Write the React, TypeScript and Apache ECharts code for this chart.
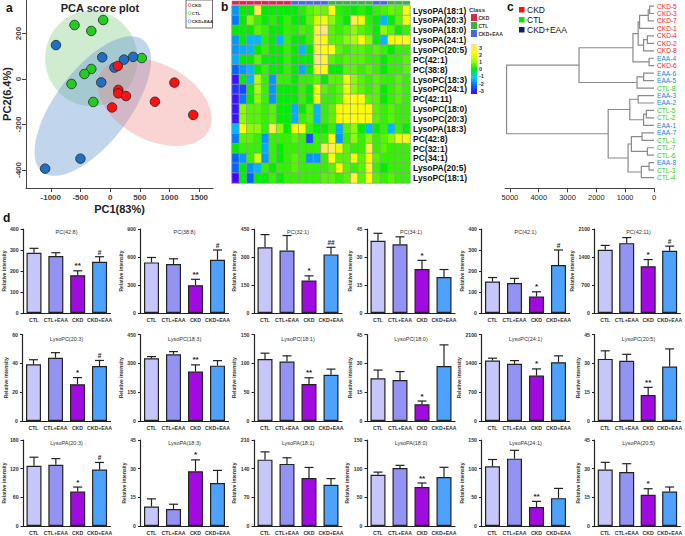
import React, { useEffect, useRef } from 'react';
import * as echarts from 'echarts';

const FONT = '"Liberation Sans", Arial, sans-serif';

// ---------- Panel a: PCA ----------
const pcaCKD = [[128, 57], [138, -48], [138, -63], [267, -75], [33, -125], [755, -100], [1083, -16], [1400, -158]];
const pcaCTL = [[-600, 237], [-117, 259], [-317, 211], [-317, 44], [-433, 22], [-650, -22], [-283, -101], [533, 92]];
const pcaEAA = [[-912, 149], [-133, 95], [-150, -15], [72, 50], [233, 85], [388, 97], [-500, -350], [-1095, -394]];
const pcaXTicks = [-1000, -500, 0, 500, 1000, 1500];
const pcaYTicks = [-400, -200, 0, 200];
const ellipseCenters = [[-317, 90], [-292, -119], [750, -101]];
const ellipseAxisU = [[767, 35], [850, 290], [917, -123]];
const ellipseAxisV = [[133, -207], [490, -100], [-288, -149]];
const ellipseFills = ['rgba(120,200,120,0.35)', 'rgba(100,150,210,0.4)', 'rgba(240,130,130,0.35)'];

// ---------- Panel b: heatmap ----------
const heatRows = ['LysoPA(18:1)', 'LysoPA(20:3)', 'LysoPA(18:0)', 'LysoPA(24:1)', 'LysoPC(20:5)', 'PC(42:1)', 'PC(38:8)', 'LysoPC(18:3)', 'LysoPC(24:1)', 'PC(42:11)', 'LysoPC(18:0)', 'LysoPC(20:3)', 'LysoPA(18:3)', 'PC(42:8)', 'PC(32:1)', 'PC(34:1)', 'LysoPA(20:5)', 'LysoPC(18:1)'];
// 0 = CKD, 1 = CTL, 2 = CKD+EAA
const heatClass = [0, 0, 0, 0, 0, 0, 0, 0, 2, 2, 2, 2, 2, 1, 1, 1, 1, 1, 1, 2, 2, 1, 1, 1];
const heatValues = [
  [-1.5, 0, 0, 2.5, 0, 0, 0, 0, 0, 0.2, 0.5, 0.7, 0.6, 2, 0.2, 0.1, 0, 0.2, 0, 0.3, 0.4, 0.6, 0.5, 1.8],
  [-1.8, 0, 0.8, 0.3, 0, 0.2, 0, 0.3, 0, 0, 0.5, 1.5, 1.8, 0.8, 0.3, 0, 2.5, 1.8, 0.2, 0, -1.2, 0, 0.5, 1.8],
  [0, 0, 0, 0.5, 0.3, 0, 0, 0.3, 0.2, 0.4, 0.3, 2.5, 2.8, 0.5, 0.3, 0.5, 0.8, 0.5, 0.3, 0, 0.8, 0.5, 0, 0.3],
  [-1.5, 0, -1.2, -1.2, 0.2, 0, -1.2, 0.3, 0, 0, 0.3, 2.5, 2, 0.5, 0.5, 0.8, 1, 2, 0.8, 0, -1.2, 2, 2, 2],
  [-1.5, -1.3, -1.2, 0, 0.3, 0, 0, 0.3, 0, -1.2, 0, 2.5, 2, 2, 0.5, 0.3, 0.5, 0.5, 0.3, 0.5, 0.3, 0, 0.3, 0.3],
  [-1.3, 0, 0, 0.5, 0, 0, 0, 0.3, 0, 0, 0, 2.8, 2.3, 0.5, 0.3, 0.5, 0.5, 0.5, 0.3, 0.3, 0, 0.3, 0.3, 0.5],
  [-2, -1.5, -1.2, 0, 0.3, 0, 0, 0.3, 0, -1.3, 0, 2.3, 2, 0, 0, 0.5, 0.5, 0.3, 0.5, 0.3, 0, 0.3, 0.3, 0.5],
  [-2.8, 0, -1.2, 1, 0.3, -1.5, 0.3, 0.3, 0, 0.3, 0.3, 0.5, 0, 0.5, 0.5, 1.8, 0.8, 0.5, 0.3, 0.5, 0.3, 0.3, 0.5, 0.3],
  [-2.5, -2.3, 0, 1, 0.3, -1.5, 0, 0, 0, 0.3, 0, 1.8, 0.5, 0.3, 0.5, 1.8, 0.8, 0.5, 0.3, 0.5, 0, 0.3, 0.5, 0.3],
  [-2.8, -1.8, 0, 0.8, 0.3, -1.5, 0, 0, 0, 0.3, 0, 2, 0.3, 0.3, 0.5, 2, 2, 2, 0.5, 0.5, 0, 0.3, 0.5, 0.3],
  [-2.8, 0.8, 0.5, 0.5, 0.3, 0.5, 0, 0, -1.3, 0, 0.5, -1.2, 0.3, 0.5, 2, 2, 2, 2, 2, 0.5, 0.3, 0.5, 0.3, 0.3],
  [-2.8, 0.8, 0.5, 0.5, 0.3, 0.5, 0, 0, -1.3, 0.3, 0.5, -1.2, 0.3, 0.5, 2, 2, 2, 2, 2, 0.5, 0.3, 0.5, 0.3, 0.3],
  [-1.2, 2, 0.8, 0.8, 0.3, 2.5, 0.8, 0, 2, 2, 0.3, 0, 0, 0.3, -1.3, 0.5, 0.8, 0, -1.2, 0, 0.3, -1.2, 0.3, 0],
  [-1.8, 0.5, 0.5, 0.3, -1.5, 0.3, 0.3, 0.3, 0.5, 0.3, -2.2, 0.3, 0.3, 2, -1.5, 0.3, 0.8, 0.3, 0.8, 0.3, 0.5, 0.8, 1.8, 1.8],
  [0, 0.3, 0.3, 0.3, -1.3, 0.3, 0, 0.3, 0.3, 0.3, 0.3, 0.3, 2.5, 2.5, 1.8, 0.5, 0.3, 0.3, 2.5, 0.3, 0.5, 0.3, 0.3, 0.3],
  [-2, -1.5, 0.3, 1.5, -1.5, 0.3, 0, 0.3, 0.5, 0.3, -1.5, -1.5, 0.3, 2, 0.5, 0.5, 1.8, 0.5, 2, 0.5, 0.3, 0.3, 0.3, 0.3],
  [-2, 0, -1.5, -1.2, 0.3, 0, 0.3, 0.3, 0.5, 0.3, 0.3, 0.3, 0.3, 0.5, 2, 0.5, 0.3, 0.5, 2.3, 0.3, 0, 0.3, 0.3, 0.3],
  [-3, 0, -2, 0, 0, 0.3, 0, 0.3, 0.3, 0.3, 0.3, 0.3, 0.5, 0.5, 0.3, 0.5, 2.3, 0.5, 2, 0.5, 0.3, 0.5, 0.3, 0.3],
];
const heatColors = ['#4a00ff', '#0066ff', '#00ccff', '#00ee00', '#aaff00', '#ffff00', '#ffdf9a'];
const heatClassNames = ['CKD', 'CTL', 'CKD+EAA'];
const heatClassColors = ['#d42a50', '#3cae4a', '#4a68d6'];
const colorbarTicks = [3, 2, 1, 0, -1, -2, -3];

// ---------- Panel c: dendrogram ----------
const dendroLeaves = ['CKD-5', 'CKD-3', 'CKD-7', 'CKD-1', 'CKD-4', 'CKD-2', 'CKD-8', 'EAA-4', 'CKD-6', 'EAA-6', 'EAA-5', 'CTL-8', 'EAA-3', 'EAA-2', 'CTL-5', 'CTL-2', 'EAA-1', 'EAA-7', 'CTL-1', 'CTL-7', 'CTL-6', 'EAA-8', 'CTL-3', 'CTL-4'];
// [left, right, height]; strings are leaves, numbers refer to earlier merges
const dendroMerges: [string | number, string | number, number][] = [
  ['CKD-5', 'CKD-3', 150], [0, 'CKD-7', 200], [1, 'CKD-1', 500], ['CKD-4', 'CKD-2', 230], [3, 'CKD-8', 360],
  [2, 4, 550], ['EAA-4', 'CKD-6', 170], [5, 6, 730], ['EAA-6', 'EAA-5', 360], [8, 'CTL-8', 590], [7, 9, 2600],
  ['EAA-3', 'EAA-2', 550], ['CTL-5', 'CTL-2', 265], [12, 'EAA-1', 360], [11, 13, 840], ['EAA-7', 'CTL-1', 415],
  ['CTL-7', 'CTL-6', 230], [15, 16, 785], ['EAA-8', 'CTL-3', 170], [18, 'CTL-4', 440], [17, 19, 900],
  [14, 20, 1590], [10, 21, 5115],
];
const dendroTicks = [0, 1000, 2000, 3000, 4000, 5000];
const legendCNames = ['CKD', 'CTL', 'CKD+EAA'];
const legendCColors = ['#ff1010', '#10dd10', '#10205a'];

// ---------- Panel d: bar charts ----------
const barCats = ['CTL', 'CTL+EAA', 'CKD', 'CKD+EAA'];
const barColors = ['#c6c6fb', '#9393f3', '#a20ae2', '#4ea2ff'];
const barTitles = [
  'PC(42:8)', 'PC(38:8)', 'PC(32:1)', 'PC(34:1)', 'PC(42:1)', 'PC(42:11)',
  'LysoPC(20:3)', 'LysoPC(18:3)', 'LysoPC(18:1)', 'LysoPC(18:0)', 'LysoPC(24:1)', 'LysoPC(20:5)',
  'LysoPA(20:3)', 'LysoPA(18:3)', 'LysoPA(18:1)', 'LysoPA(18:0)', 'LysoPA(24:1)', 'LysoPA(20:5)',
];
const barMeans = [
  [287, 271, 180, 244], [542, 524, 298, 571], [352, 335, 174, 314], [38.7, 36.8, 23.6, 19.3], [150, 143, 78, 228], [1583, 1746, 1170, 1558],
  [39.3, 43.9, 25.5, 38.1], [326, 347, 257, 288], [107.6, 103, 64, 80], [22.2, 21.3, 8.7, 28.6], [1467, 1387, 1102, 1428], [32.3, 31.3, 13.5, 28.3],
  [126, 128, 72, 118], [10.2, 8.9, 28.6, 22.5], [162, 151.6, 117, 100.7], [89.5, 101, 68, 85.4], [104, 117.5, 33, 48.6], [29.5, 28.2, 16.3, 18],
];
const barErrs = [
  [21, 16, 21, 24], [53, 57, 63, 104], [68, 80, 25, 38], [4, 4, 4.6, 4], [19, 22, 23, 72], [107, 140, 166, 114],
  [3.2, 3.5, 4.6, 3.9], [9, 14, 35, 26], [10, 10, 11, 10], [4.3, 4.4, 1.7, 11], [58, 80, 163, 154], [4.2, 3.4, 4, 9.2],
  [18, 13, 9.5, 15], [4, 2.5, 6, 6.6], [19, 15, 26, 15], [4.5, 4.8, 7, 17], [12, 14.5, 10, 17], [3.8, 4.4, 3.2, 2.4],
];
const barMarks = [
  ['', '', '**', '#'], ['', '', '**', '#'], ['', '', '*', '##'], ['', '', '*', ''], ['', '', '*', '#'], ['', '', '*', '#'],
  ['', '', '*', '#'], ['', '', '**', ''], ['', '', '**', ''], ['', '', '*', ''], ['', '', '*', ''], ['', '', '**', ''],
  ['', '', '*', '#'], ['', '', '*', ''], ['', '', '', ''], ['', '', '**', ''], ['', '', '**', ''], ['', '', '*', ''],
];
const barYMax = [400, 900, 450, 45, 400, 2100, 60, 450, 150, 45, 2100, 45, 180, 45, 210, 150, 150, 45];
const barYStep = [100, 300, 150, 15, 100, 700, 20, 150, 50, 15, 700, 15, 60, 15, 70, 50, 50, 15];

const plain = (v: number) => String(v);

function buildOption() {
  const grid: any[] = [];
  const xAxis: any[] = [];
  const yAxis: any[] = [];
  const series: any[] = [];
  const graphic: any[] = [];
  const txt = (x: number, y: number, text: string, fontSize: number, opts: any = {}) => ({
    type: 'text', x, y, silent: true,
    style: { text, fontSize, fontFamily: FONT, fill: opts.fill || '#111', fontWeight: opts.bold ? 'bold' : 'normal', align: opts.align || 'left', verticalAlign: 'middle' },
  });

  // ----- a -----
  grid.push({ left: 24, top: 0, width: 189, height: 188 });
  xAxis.push({
    type: 'value', gridIndex: 0, min: -1417, max: 1733, splitLine: { show: false },
    axisLine: { show: true, onZero: false, lineStyle: { color: '#444', width: 1 } },
    axisTick: { show: true, customValues: pcaXTicks, length: 4, lineStyle: { color: '#444' } },
    axisLabel: { customValues: pcaXTicks, formatter: plain, fontSize: 8, fontWeight: 'bold', color: '#444', margin: 5 },
    name: 'PC1(83%)', nameLocation: 'middle', nameGap: 15,
    nameTextStyle: { fontSize: 11, fontWeight: 'bold', color: '#222', verticalAlign: 'top' },
  });
  yAxis.push({
    type: 'value', gridIndex: 0, min: -479, max: 347, splitLine: { show: false },
    axisLine: { show: true, onZero: false, lineStyle: { color: '#444', width: 1 } },
    axisTick: { show: true, customValues: pcaYTicks, length: 4, lineStyle: { color: '#444' } },
    axisLabel: { customValues: pcaYTicks, formatter: plain, fontSize: 8, fontWeight: 'bold', color: '#444', margin: 4, rotate: 90 },
    name: 'PC2(6.4%)', nameLocation: 'middle', nameGap: 14,
    nameTextStyle: { fontSize: 11, fontWeight: 'bold', color: '#222' },
  });
  series.push({
    type: 'custom', xAxisIndex: 0, yAxisIndex: 0, silent: true, z: 1,
    data: ellipseCenters.map((c, i) => [c[0], c[1], i]),
    renderItem: (params: any, api: any) => {
      const i = params.dataIndex;
      const c = ellipseCenters[i], u = ellipseAxisU[i], v = ellipseAxisV[i];
      const pts: number[][] = [];
      for (let k = 0; k < 72; k++) {
        const t = (k / 72) * Math.PI * 2;
        pts.push(api.coord([c[0] + u[0] * Math.cos(t) + v[0] * Math.sin(t), c[1] + u[1] * Math.cos(t) + v[1] * Math.sin(t)]));
      }
      return { type: 'polygon', shape: { points: pts }, style: { fill: ellipseFills[i], stroke: 'none' } };
    },
  });
  const pts = [
    [pcaCTL, '#22cc22'], [pcaEAA, '#1f6fc5'], [pcaCKD, '#ff1010'],
  ] as [number[][], string][];
  pts.forEach(([d, col]) => series.push({
    type: 'scatter', xAxisIndex: 0, yAxisIndex: 0, data: d, symbolSize: 9.5, z: 3,
    itemStyle: { color: col, borderColor: '#222', borderWidth: 0.8, opacity: 1 },
  }));
  graphic.push(txt(6, 8, 'a', 12, { bold: true }));
  graphic.push(txt(100, 8, 'PCA score plot', 11, { bold: true, align: 'center', fill: '#222' }));
  graphic.push({ type: 'rect', shape: { x: 186, y: 0, width: 26.5, height: 28 }, style: { fill: '#fff', stroke: '#333', lineWidth: 0.7 }, z: 10 });
  const pcaLegNames = ['CKD', 'CTL', 'CKD+EAA'];
  const pcaLegCols = ['#ff1010', '#22cc22', '#1f6fc5'];
  pcaLegNames.forEach((n, i) => {
    graphic.push({ type: 'circle', shape: { cx: 189.5, cy: 5 + i * 8.2, r: 1.5 }, style: { fill: 'none', stroke: pcaLegCols[i], lineWidth: 0.6 }, z: 11 });
    graphic.push({ ...txt(191.8, 5 + i * 8.2, n, 4.4, { bold: true, fill: '#333' }), z: 11 });
  });

  // ----- b -----
  const sampleIds = heatClass.map((c, i) => 's' + i);
  grid.push({ left: 232, top: 1, width: 178, height: 3.6 });
  grid.push({ left: 232, top: 5.7, width: 178, height: 177.3 });
  xAxis.push({ type: 'category', gridIndex: 1, data: sampleIds, show: false });
  xAxis.push({ type: 'category', gridIndex: 2, data: sampleIds, show: false });
  yAxis.push({ type: 'category', gridIndex: 1, data: ['class'], show: false });
  yAxis.push({
    type: 'category', gridIndex: 2, data: heatRows, inverse: true, position: 'right',
    axisLine: { show: false }, axisTick: { show: false },
    axisLabel: { interval: 0, fontSize: 8.5, fontWeight: 'bold', color: '#111', margin: 3, lineHeight: 9 },
  });
  const classSeriesIndex = series.length;
  series.push({
    type: 'heatmap', xAxisIndex: 1, yAxisIndex: 1,
    data: heatClass.map((c, i) => [i, 0, c]),
    itemStyle: { borderColor: '#fff', borderWidth: 0.3 },
  });
  const heatSeriesIndex = series.length;
  const hdata: number[][] = [];
  heatValues.forEach((row, r) => row.forEach((v, c) => hdata.push([c, r, v])));
  series.push({
    type: 'heatmap', xAxisIndex: 2, yAxisIndex: 2, data: hdata,
    itemStyle: { borderColor: '#9a9a9a', borderWidth: 0.7 },
  });
  graphic.push(txt(221, 7, 'b', 12, { bold: true }));
  graphic.push(txt(469, 10, 'Class', 6, { bold: true, fill: '#333' }));
  heatClassNames.forEach((n, i) => {
    graphic.push({ type: 'rect', shape: { x: 471, y: 14 + i * 8, width: 6, height: 7 }, style: { fill: heatClassColors[i] } });
    graphic.push(txt(478.5, 17.5 + i * 8, n, 5, { bold: true, fill: '#333' }));
  });
  const stops = heatColors.slice().reverse().map((c, i) => ({ offset: i / (heatColors.length - 1), color: c }));
  graphic.push({ type: 'rect', shape: { x: 471, y: 44, width: 6, height: 50 }, style: { fill: new echarts.graphic.LinearGradient(0, 0, 0, 1, stops) } });
  colorbarTicks.forEach((t, i) => graphic.push(txt(479, 47.5 + i * 7.2, String(t), 5.5, { bold: true, fill: '#333' })));

  // ----- c -----
  grid.push({ left: 505, top: 2.3, width: 149, height: 179 });
  xAxis.push({
    type: 'value', gridIndex: 3, min: 0, max: 5170, inverse: true, offset: 7,
    splitLine: { show: false },
    axisLine: { show: true, onZero: false, lineStyle: { color: '#444', width: 1 } },
    axisTick: { show: true, customValues: dendroTicks, length: 4, lineStyle: { color: '#444' } },
    axisLabel: { customValues: dendroTicks, formatter: plain, fontSize: 7.5, color: '#222', margin: 5 },
  });
  const leafKey = (n: string) => n.startsWith('CKD') ? 'ckd' : n.startsWith('EAA') ? 'eaa' : 'ctl';
  yAxis.push({
    type: 'category', gridIndex: 3, data: dendroLeaves, inverse: true, position: 'right',
    axisLine: { show: false }, axisTick: { show: false },
    axisLabel: {
      interval: 0, margin: 3, formatter: (v: string) => `{${leafKey(v)}|${v}}`,
      rich: {
        ckd: { color: '#ff1a1a', fontSize: 6.6, lineHeight: 7, fontFamily: FONT },
        eaa: { color: '#1f7fe0', fontSize: 6.6, lineHeight: 7, fontFamily: FONT },
        ctl: { color: '#18d018', fontSize: 6.6, lineHeight: 7, fontFamily: FONT },
      },
    },
  });
  yAxis.push({ type: 'value', gridIndex: 3, min: -0.5, max: 23.5, inverse: true, show: false });
  const nodePos: number[][] = [];
  const posOf = (ref: string | number) => typeof ref === 'number' ? nodePos[ref] : [0, dendroLeaves.indexOf(ref)];
  const links: any[] = [];
  dendroMerges.forEach(([a, b, h]) => {
    const pa = posOf(a), pb = posOf(b);
    links.push({ coords: [[pa[0], pa[1]], [h, pa[1]], [h, pb[1]], [pb[0], pb[1]]] });
    nodePos.push([h, (pa[1] + pb[1]) / 2]);
  });
  series.push({
    type: 'lines', coordinateSystem: 'cartesian2d', xAxisIndex: 3, yAxisIndex: 4, polyline: true,
    data: links, lineStyle: { color: '#8a8a8a', width: 1.2, opacity: 1 }, silent: true,
  });
  graphic.push(txt(507, 7, 'c', 12, { bold: true }));
  legendCNames.forEach((n, i) => {
    graphic.push({ type: 'rect', shape: { x: 519, y: 7 + i * 10, width: 5.5, height: 5.5 }, style: { fill: legendCColors[i] } });
    graphic.push(txt(527, 10 + i * 10, n, 8.5, { fill: '#111' }));
  });

  // ----- d -----
  graphic.push(txt(3, 218, 'd', 12, { bold: true }));
  const colLefts = [22.5, 140.5, 254, 367, 481.5, 594.5];
  const rowTops = [229, 334.5, 440];
  const rowHeights = [84, 86.5, 86];
  const titleOffsets = [2.5, 4.5, 2.5];
  barTitles.forEach((title, k) => {
    const r = Math.floor(k / 6), c = k % 6;
    const gi = grid.length;
    grid.push({ left: colLefts[c], top: rowTops[r], width: 88, height: rowHeights[r] });
    const xi = xAxis.length, yi = yAxis.length;
    xAxis.push({
      type: 'category', gridIndex: gi, data: barCats,
      axisLine: { show: true, lineStyle: { color: '#222', width: 1.2 } }, axisTick: { show: false },
      axisLabel: { interval: 0, fontSize: 5.2, fontWeight: 'bold', color: '#333', margin: 4, fontFamily: FONT },
    });
    const labLen = String(barYMax[k]).length;
    yAxis.push({
      type: 'value', gridIndex: gi, min: 0, max: barYMax[k], interval: barYStep[k], splitLine: { show: false },
      axisLine: { show: true, lineStyle: { color: '#222', width: 1.2 } },
      axisTick: { show: true, length: 2.5, lineStyle: { color: '#222', width: 1 } },
      axisLabel: { formatter: plain, fontSize: 5.2, fontWeight: 'bold', color: '#333', margin: 4.5, fontFamily: FONT },
      name: 'Relative intensity', nameLocation: 'middle', nameGap: 4.5 + labLen * 2.9 + 2.5,
      nameTextStyle: { fontSize: 5, fontWeight: 'bold', color: '#333', fontFamily: FONT },
    });
    series.push({
      type: 'bar', xAxisIndex: xi, yAxisIndex: yi, barWidth: 15,
      data: barMeans[k].map((v, i) => ({ value: v, itemStyle: { color: barColors[i] } })),
      itemStyle: { borderColor: '#222', borderWidth: 1.2 },
    });
    series.push({
      type: 'custom', xAxisIndex: xi, yAxisIndex: yi, z: 5, silent: true,
      data: barMeans[k].map((v, i) => [i, v, barErrs[k][i]]),
      renderItem: (params: any, api: any) => {
        const i = api.value(0), m = api.value(1), e = api.value(2);
        const p0 = api.coord([i, m]);
        const p1 = api.coord([i, m + e]);
        const children: any[] = [
          { type: 'line', shape: { x1: p0[0], y1: p0[1], x2: p1[0], y2: p1[1] }, style: { stroke: '#222', lineWidth: 1.2 } },
          { type: 'line', shape: { x1: p1[0] - 4.5, y1: p1[1], x2: p1[0] + 4.5, y2: p1[1] }, style: { stroke: '#222', lineWidth: 1.2 } },
        ];
        const mark = barMarks[k][params.dataIndex];
        if (mark) {
          children.push({
            type: 'text', x: p1[0], y: p1[1] - 1,
            style: { text: mark, fill: '#222', fontSize: mark.startsWith('*') ? 8 : 6.5, fontWeight: 'bold', fontFamily: FONT, align: 'center', verticalAlign: 'bottom' },
          });
        }
        return { type: 'group', children };
      },
    });
    graphic.push(txt(colLefts[c] + 44, rowTops[r] + titleOffsets[r], title, 5.5, { fill: '#333', align: 'center' }));
  });

  return {
    animation: false,
    backgroundColor: '#fff',
    textStyle: { fontFamily: FONT },
    grid, xAxis, yAxis, series, graphic,
    visualMap: [
      { type: 'continuous', show: false, min: -3, max: 3, seriesIndex: heatSeriesIndex, dimension: 2, inRange: { color: heatColors } },
      {
        type: 'piecewise', show: false, seriesIndex: classSeriesIndex, dimension: 2,
        pieces: heatClassColors.map((col, i) => ({ value: i, color: col })),
      },
    ],
  };
}

export default function App() {
  const ref = useRef<HTMLDivElement>(null);
  useEffect(() => {
    document.body.style.margin = '0';
    const chart = echarts.init(ref.current!, null, { renderer: 'svg' });
    chart.setOption(buildOption() as any);
    return () => chart.dispose();
  }, []);
  return <div ref={ref} style={{ width: 685, height: 536 }} />;
}
